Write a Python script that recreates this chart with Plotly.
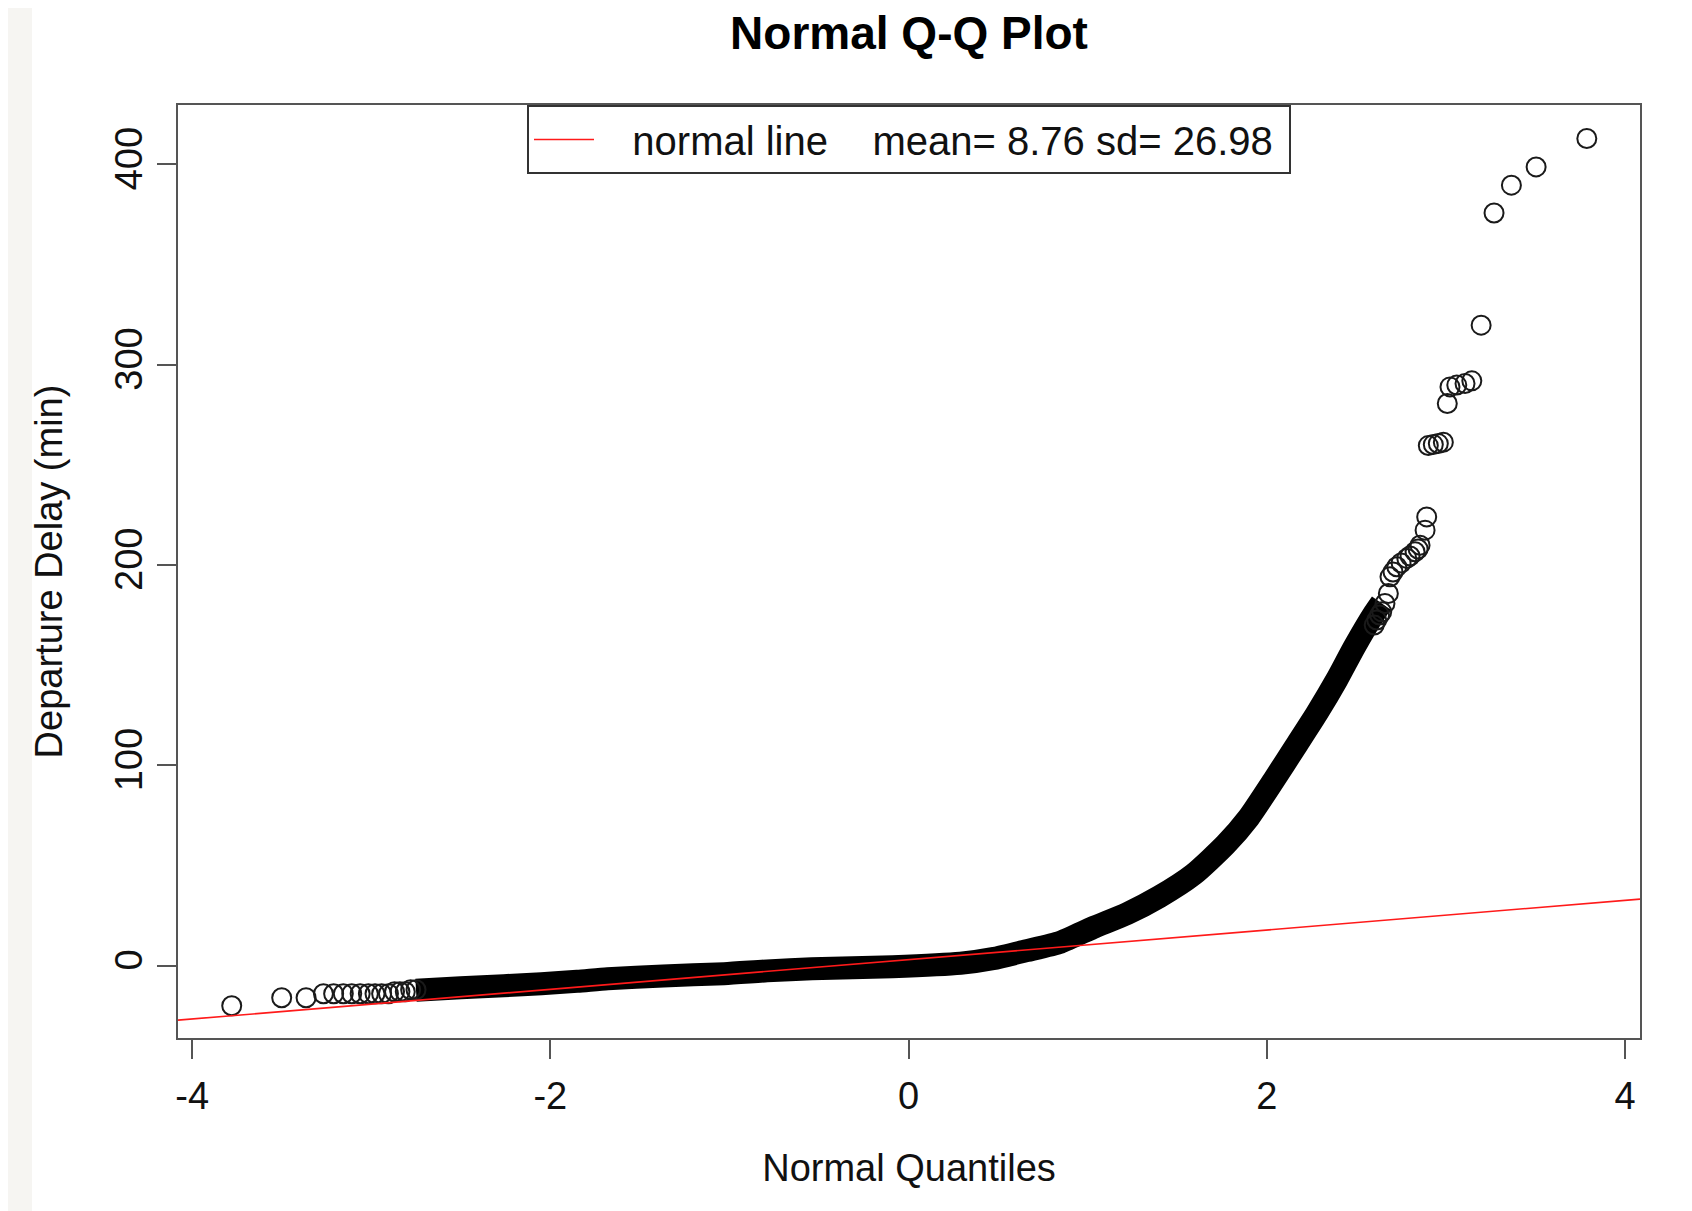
import plotly.graph_objects as go

# ---------------- data ----------------
# dense central run of points: thousands of overlapping circles that render as a solid band
band_quantile = [-2.75, -2.50, -2.26, -2.05, -1.85, -1.68, -1.37, -1.03, -0.79, -0.54,
                 -0.09, 0.29, 0.47, 0.66, 0.85, 1.03, 1.22, 1.40, 1.59, 1.77,
                 1.90, 2.04, 2.16, 2.28, 2.39, 2.49, 2.60, 2.64]
band_delay = [-12.3, -11.0, -10.0, -9.0, -7.8, -6.5, -5.1, -4.0, -2.6, -1.5,
              -0.5, 1.2, 3.5, 7.5, 11.8, 19.0, 26.0, 34.4, 45.5, 60.5,
              74.0, 92.7, 109.3, 126.0, 142.6, 159.2, 175.8, 181.0]

# individually visible points in the lower tail
low_tail_quantile = [-3.779, -3.500, -3.364, -3.267, -3.210, -3.156, -3.109, -3.062, -3.016,
                     -2.979, -2.942, -2.904, -2.870, -2.840, -2.810, -2.780, -2.750]
low_tail_delay = [-20, -16, -16, -14, -14, -14, -14, -14, -14,
                  -14, -14, -14, -13, -13, -13, -12, -12]

# individually visible points in the upper tail
high_tail_quantile = [2.600, 2.614, 2.630, 2.642, 2.660, 2.679, 2.688, 2.705, 2.726, 2.750,
                      2.782, 2.800, 2.828, 2.845, 2.856, 2.884, 2.893, 2.902, 2.930, 2.958,
                      2.986, 3.008, 3.023, 3.061, 3.107, 3.145, 3.197, 3.269, 3.366, 3.504,
                      3.787]
high_tail_delay = [170.0, 172.5, 175.0, 176.6, 180.8, 185.8, 194.1, 196.5, 199.1, 201.0,
                   203.3, 204.5, 206.6, 208.0, 209.9, 217.4, 224.0, 259.6, 260.1, 260.6,
                   261.3, 280.6, 288.9, 289.8, 290.6, 291.9, 319.7, 375.7, 389.6, 398.7,
                   412.9]

# reference line (qqline)
qq_intercept = 3.0
qq_slope = 7.4
NB = "\u00a0"
legend_label = NB * 3 + "normal line" + NB * 4 + "mean= 8.76 sd= 26.98" + NB

x_ticks = [-4, -2, 0, 2, 4]
y_ticks = [0, 100, 200, 300, 400]
x_range = [-4.079, 4.084]
y_range = [-36.1, 429.6]

# ---------------- figure ----------------
FONT = "Liberation Sans, Arial, sans-serif"
# the page body adds an 8 px margin; size the figure so it fills the 1692x1211 window exactly
W, H = 1684, 1203
ML, MR, MT, MB = 170, 52, 97, 173

fig = go.Figure()

circle = dict(symbol="circle-open", size=19, color="#1a1a1a", line=dict(width=2, color="#1a1a1a"))

fig.add_trace(go.Scatter(
    x=band_quantile, y=band_delay, mode="lines",
    line=dict(color="#000000", width=23, shape="spline", smoothing=0.6),
    showlegend=False, hoverinfo="skip"))
fig.add_trace(go.Scatter(x=low_tail_quantile, y=low_tail_delay, mode="markers",
                         marker=circle, showlegend=False))
fig.add_trace(go.Scatter(x=high_tail_quantile, y=high_tail_delay, mode="markers",
                         marker=circle, showlegend=False))

line_x = x_range
line_y = [qq_intercept + qq_slope * v for v in line_x]
fig.add_trace(go.Scatter(x=line_x, y=line_y, mode="lines",
                         line=dict(color="#ff1a1a", width=1.6),
                         name=legend_label, showlegend=True))

plot_w = W - ML - MR
plot_h = H - MT - MB
# light strip at the far left of the picture
fig.add_shape(type="rect", xref="paper", yref="paper",
              x0=-ML / plot_w, x1=(24 - ML) / plot_w, y0=-MB / plot_h, y1=1 + MT / plot_h,
              fillcolor="#f6f5f2", line=dict(width=0), layer="below")

axis_common = dict(
    showgrid=False, zeroline=False, showline=True, mirror=True, automargin=False,
    linecolor="#555555", linewidth=2,
    ticks="outside", ticklen=19, tickwidth=2, tickcolor="#555555",
    tickfont=dict(family=FONT, size=38, color="#111111"),
)

fig.update_layout(
    width=W, height=H,
    margin=dict(l=ML, r=MR, t=MT, b=MB, autoexpand=False),
    paper_bgcolor="#ffffff", plot_bgcolor="#ffffff",
    font=dict(family=FONT, color="#111111"),
    title=dict(text="Normal Q-Q Plot", x=0.5, xref="paper", xanchor="center",
               y=1 - 25 / H, yref="container", yanchor="middle",
               font=dict(family=FONT, size=46, color="#000000", weight="bold")),
    xaxis=dict(range=x_range, tickvals=x_ticks, ticktext=[str(v) for v in x_ticks],
               title=dict(text="Normal Quantiles", font=dict(family=FONT, size=38, color="#111111"), standoff=39),
               ticklabelstandoff=4,
               **axis_common),
    yaxis=dict(range=y_range, tickvals=y_ticks, ticktext=[str(v) for v in y_ticks],
               tickangle=-90,
               title=dict(text="Departure Delay (min)", font=dict(family=FONT, size=38, color="#111111"), standoff=33),
               ticklabelstandoff=0,
               **axis_common),
    legend=dict(x=(519 - ML) / plot_w, y=1, xanchor="left", yanchor="top",
                bgcolor="#ffffff", bordercolor="#333333", borderwidth=2,
                font=dict(family=FONT, size=40, color="#111111"),
                itemwidth=60),
)

fig.write_html("out.html")
